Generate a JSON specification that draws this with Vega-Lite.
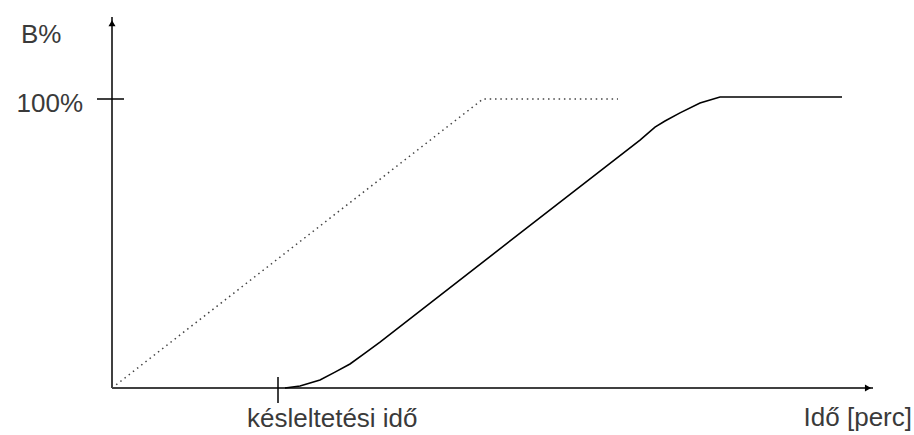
{
  "$schema": "https://vega.github.io/schema/vega-lite/v6.json",
  "width": 914,
  "height": 435,
  "padding": 0,
  "autosize": {"type": "none"},
  "background": "white",
  "config": {"view": {"stroke": null}},
  "datasets": {
    "dotted": [
      {"t": 0, "b": 0},
      {"t": 371, "b": 100},
      {"t": 506, "b": 100}
    ],
    "solid": [
      {"t": 173, "b": 0},
      {"t": 188, "b": 0.7},
      {"t": 208, "b": 2.8},
      {"t": 223, "b": 5.5},
      {"t": 238, "b": 8.3},
      {"t": 253, "b": 12.1},
      {"t": 268, "b": 15.9},
      {"t": 528, "b": 85.8},
      {"t": 543, "b": 90.3},
      {"t": 553, "b": 92.4},
      {"t": 568, "b": 95.2},
      {"t": 588, "b": 98.6},
      {"t": 608, "b": 100.7},
      {"t": 730, "b": 100.7}
    ],
    "rules": [
      {"t": 0, "b": 0, "t2": 0, "b2": 128.4},
      {"t": 0, "b": 0, "t2": 761, "b2": 0},
      {"t": -15, "b": 100, "t2": 12, "b2": 100},
      {"t": 166, "b": 3.8, "t2": 166, "b2": -5.2}
    ],
    "upArrow": [{"t": 0, "b": 126.2}],
    "rightArrow": [{"t": 756, "b": 0}],
    "leftLabels": [
      {"t": -91, "b": 119.4, "label": "B%"},
      {"t": 135, "b": -13.5, "label": "késleltetési idő"}
    ],
    "rightLabels": [
      {"t": -29, "b": 95.5, "label": "100%"},
      {"t": 800, "b": -13.2, "label": "Idő [perc]"}
    ]
  },
  "layer": [
    {
      "data": {"name": "rules"},
      "mark": {"type": "rule", "color": "black", "strokeWidth": 1.5},
      "encoding": {
        "x": {"field": "t", "type": "quantitative", "scale": {"domain": [-112, 802], "nice": false, "zero": false}, "axis": null},
        "y": {"field": "b", "type": "quantitative", "scale": {"domain": [-16.263, 134.256], "nice": false, "zero": false}, "axis": null},
        "x2": {"field": "t2"},
        "y2": {"field": "b2"}
      }
    },
    {
      "data": {"name": "upArrow"},
      "mark": {"type": "point", "shape": "triangle-up", "filled": true, "color": "black", "size": 50, "opacity": 1},
      "encoding": {
        "x": {"field": "t", "type": "quantitative"},
        "y": {"field": "b", "type": "quantitative"}
      }
    },
    {
      "data": {"name": "rightArrow"},
      "mark": {"type": "point", "shape": "triangle-right", "filled": true, "color": "black", "size": 50, "opacity": 1},
      "encoding": {
        "x": {"field": "t", "type": "quantitative"},
        "y": {"field": "b", "type": "quantitative"}
      }
    },
    {
      "data": {"name": "dotted"},
      "mark": {"type": "line", "color": "#444", "strokeWidth": 1.5, "strokeDash": [1.5, 3.8]},
      "encoding": {
        "x": {"field": "t", "type": "quantitative"},
        "y": {"field": "b", "type": "quantitative"}
      }
    },
    {
      "data": {"name": "solid"},
      "mark": {"type": "line", "color": "black", "strokeWidth": 1.6},
      "encoding": {
        "x": {"field": "t", "type": "quantitative"},
        "y": {"field": "b", "type": "quantitative"}
      }
    },
    {
      "data": {"name": "leftLabels"},
      "mark": {"type": "text", "align": "left", "baseline": "alphabetic", "font": "Liberation Sans", "fontSize": 26, "color": "#3a3a3a"},
      "encoding": {
        "x": {"field": "t", "type": "quantitative"},
        "y": {"field": "b", "type": "quantitative"},
        "text": {"field": "label"}
      }
    },
    {
      "data": {"name": "rightLabels"},
      "mark": {"type": "text", "align": "right", "baseline": "alphabetic", "font": "Liberation Sans", "fontSize": 26, "color": "#3a3a3a"},
      "encoding": {
        "x": {"field": "t", "type": "quantitative"},
        "y": {"field": "b", "type": "quantitative"},
        "text": {"field": "label"}
      }
    }
  ]
}
